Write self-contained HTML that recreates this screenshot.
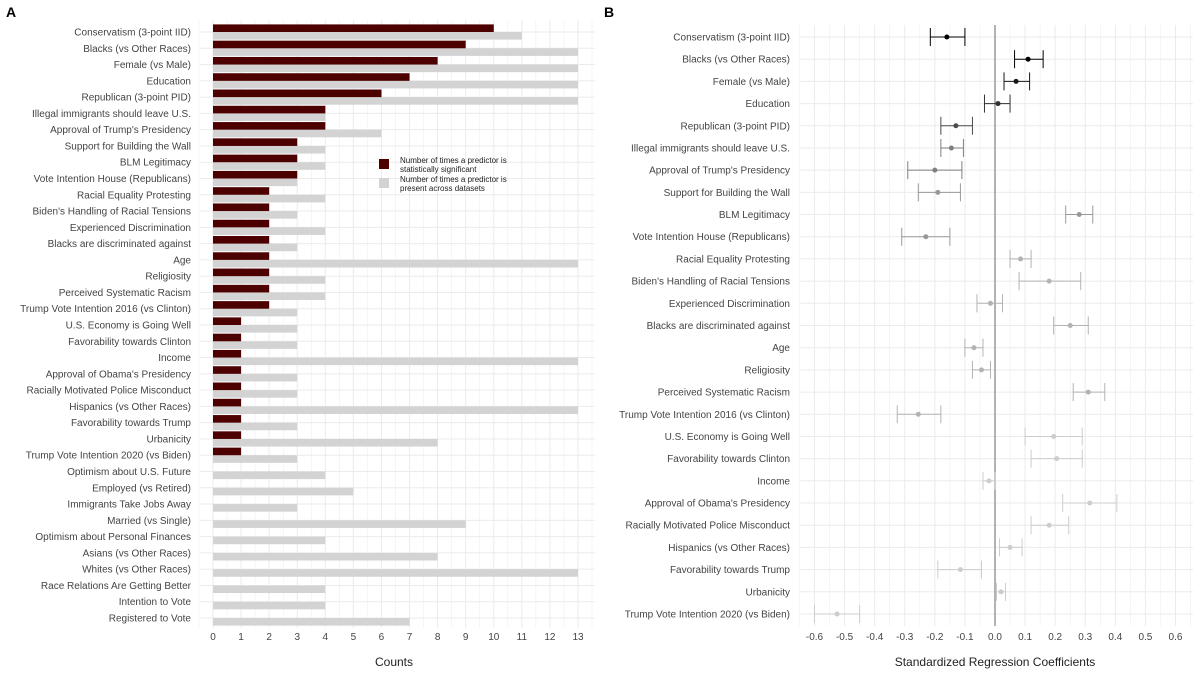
<!DOCTYPE html>
<html><head><meta charset="utf-8">
<style>
body{margin:0;background:#fff;font-family:"Liberation Sans",sans-serif;}
svg text{font-family:"Liberation Sans",sans-serif;}
</style></head>
<body>
<svg id="chart" width="1200" height="672" viewBox="0 0 1200 672">
<text x="6" y="17" font-size="14" font-weight="bold" fill="#000">A</text>
<text x="604" y="17" font-size="14" font-weight="bold" fill="#000">B</text>
<g id="pa"></g>
<g id="pb"></g>
<text x="394" y="666" font-size="12" text-anchor="middle" fill="#222">Counts</text>
<text x="995" y="666" font-size="12" text-anchor="middle" fill="#222">Standardized Regression Coefficients</text>
<g>
<rect x="379" y="159" width="10" height="10" fill="#4d0000"/>
<text x="400" y="163" font-size="8" fill="#222"><tspan x="400">Number of times a predictor is</tspan><tspan x="400" dy="9">statistically significant</tspan></text>
<rect x="379" y="178" width="10" height="10" fill="#d3d3d3"/>
<text x="400" y="182" font-size="8" fill="#222"><tspan x="400">Number of times a predictor is</tspan><tspan x="400" dy="9">present across datasets</tspan></text>
</g>
</svg>
<script>
const catsA=["Conservatism (3-point IID)","Blacks (vs Other Races)","Female (vs Male)","Education","Republican (3-point PID)","Illegal immigrants should leave U.S.","Approval of Trump's Presidency","Support for Building the Wall","BLM Legitimacy","Vote Intention House (Republicans)","Racial Equality Protesting","Biden's Handling of Racial Tensions","Experienced Discrimination","Blacks are discriminated against","Age","Religiosity","Perceived Systematic Racism","Trump Vote Intention 2016 (vs Clinton)","U.S. Economy is Going Well","Favorability towards Clinton","Income","Approval of Obama's Presidency","Racially Motivated Police Misconduct","Hispanics (vs Other Races)","Favorability towards Trump","Urbanicity","Trump Vote Intention 2020 (vs Biden)","Optimism about U.S. Future","Employed (vs Retired)","Immigrants Take Jobs Away","Married (vs Single)","Optimism about Personal Finances","Asians (vs Other Races)","Whites (vs Other Races)","Race Relations Are Getting Better","Intention to Vote","Registered to Vote"];
const sigCounts=[10,9,8,7,6,4,4,3,3,3,2,2,2,2,2,2,2,2,1,1,1,1,1,1,1,1,1,0,0,0,0,0,0,0,0,0,0];
const presentCounts=[11,13,13,13,13,4,6,4,4,3,4,3,4,3,13,4,4,3,3,3,13,3,3,13,3,8,3,4,5,3,9,4,8,13,4,4,7];
const ticksA=[0,1,2,3,4,5,6,7,8,9,10,11,12,13];
const catsB=catsA.slice(0,27);
const est=[-0.16,0.11,0.07,0.01,-0.13,-0.145,-0.2,-0.19,0.28,-0.23,0.085,0.18,-0.015,0.25,-0.07,-0.045,0.31,-0.255,0.195,0.205,-0.02,0.315,0.18,0.05,-0.115,0.02,-0.525];
const lo=[-0.215,0.065,0.03,-0.035,-0.18,-0.18,-0.29,-0.255,0.235,-0.31,0.05,0.08,-0.06,0.195,-0.1,-0.075,0.26,-0.325,0.1,0.12,-0.04,0.225,0.12,0.015,-0.19,0.005,-0.6];
const hi=[-0.1,0.16,0.115,0.05,-0.075,-0.105,-0.11,-0.115,0.325,-0.15,0.12,0.285,0.025,0.31,-0.04,-0.015,0.365,-0.18,0.29,0.29,0.0,0.405,0.245,0.09,-0.045,0.035,-0.45];
const ticksB=[-0.6,-0.5,-0.4,-0.3,-0.2,-0.1,0,0.1,0.2,0.3,0.4,0.5,0.6];
const NS="http://www.w3.org/2000/svg";
function mk(p,t,a){const e=document.createElementNS(NS,t);for(const k in a)e.setAttribute(k,a[k]);p.appendChild(e);return e;}
// Panel A
const pa=document.getElementById('pa');
const xA=v=>213+v*(578-213)/13;
const yA=i=>32+i*(618-32)/36;
for(let v=-0.5;v<=13.5;v+=0.5){const l=mk(pa,'line',{x1:xA(v),x2:xA(v),y1:20,y2:628,stroke:'#ebebeb','stroke-width':v%1?0.5:1});
}
catsA.forEach((c,i)=>{const l=mk(pa,'line',{x1:200,x2:595,y1:yA(i),y2:yA(i),stroke:'#ebebeb'});
});
catsA.forEach((c,i)=>{
 const y=yA(i);
 const g=mk(pa,'rect',{x:xA(0),y:y,width:xA(presentCounts[i])-xA(0),height:7.6,fill:'#d3d3d3'});
 
 if(sigCounts[i]>0){const d=mk(pa,'rect',{x:xA(0),y:y-7.6,width:xA(sigCounts[i])-xA(0),height:7.6,fill:'#4d0000'});
 }
 const t=mk(pa,'text',{x:191,y:y+3.5,'font-size':10,'text-anchor':'end',fill:'#444'});t.textContent=c;
 
});
ticksA.forEach(v=>{const t=mk(pa,'text',{x:xA(v),y:640,'font-size':10,'text-anchor':'middle',fill:'#444'});t.textContent=v;
});
// Panel B
const pb=document.getElementById('pb');
const xB=v=>995+v*(1175-814)/1.2;
const yB=i=>37+i*(614-37)/26;
for(let k=-13;k<=13;k++){const v=k*0.05;const l=mk(pb,'line',{x1:xB(v),x2:xB(v),y1:25,y2:626,stroke:'#ebebeb','stroke-width':k%2?0.5:1});
}
catsB.forEach((c,i)=>{const l=mk(pb,'line',{x1:800,x2:1193,y1:yB(i),y2:yB(i),stroke:'#ebebeb'});
});
const z=mk(pb,'line',{x1:xB(0),x2:xB(0),y1:25,y2:626,stroke:'#999','stroke-width':1.5});

catsB.forEach((c,i)=>{
 const y=yB(i);const s=sigCounts[i];
 const gv=Math.round(Math.max(0,Math.min(205,205-(s-1)*26)));
 const col=`rgb(${gv},${gv},${gv})`;
 const g=mk(pb,'g',{});
 mk(g,'line',{x1:xB(lo[i]),x2:xB(hi[i]),y1:y,y2:y,stroke:col,'stroke-width':1});
 mk(g,'line',{x1:xB(lo[i]),x2:xB(lo[i]),y1:y-9,y2:y+9,stroke:col,'stroke-width':1});
 mk(g,'line',{x1:xB(hi[i]),x2:xB(hi[i]),y1:y-9,y2:y+9,stroke:col,'stroke-width':1});
 mk(g,'circle',{cx:xB(est[i]),cy:y,r:2.5,fill:col});
 const t=mk(pb,'text',{x:790,y:y+3.5,'font-size':10,'text-anchor':'end',fill:'#444'});t.textContent=c;
 
});
ticksB.forEach(v=>{const t=mk(pb,'text',{x:xB(v),y:640,'font-size':10,'text-anchor':'middle',fill:'#444'});t.textContent=v.toFixed(1);
});
</script>
</body></html>
